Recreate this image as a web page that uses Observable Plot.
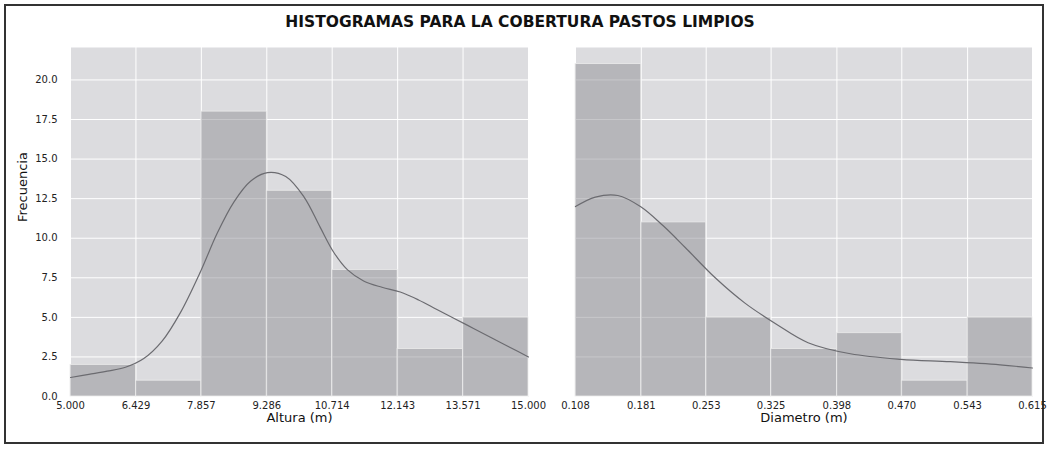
<!DOCTYPE html>
<html>
<head>
<meta charset="utf-8">
<script src="https://cdn.jsdelivr.net/npm/d3@7"></script>
<script src="https://cdn.jsdelivr.net/npm/@observablehq/plot@0.6"></script>
<style>
  html, body { margin: 0; padding: 0; background: #fff; }
  #wrap { position: relative; width: 1047px; height: 449px; overflow: hidden; font-family: "DejaVu Sans", sans-serif; }
  #frame { position: absolute; left: 4px; top: 4px; width: 1036px; height: 436px; border: 2px solid #333; }
  #title { position: absolute; left: 0; width: 1040px; top: 14px; line-height: 16px; text-align: center;
           font-weight: bold; font-size: 15.5px; color: #111; }
  .panel { position: absolute; top: 0; }
</style>
</head>
<body>
<div id="wrap">
  <div id="frame"></div>
  <div id="left" class="panel" style="left:0px"></div>
  <div id="right" class="panel" style="left:545px"></div>
  <div id="title">HISTOGRAMAS PARA LA COBERTURA PASTOS LIMPIOS</div>
</div>
<script>
// ---- data ----
const alturaEdges = [5.000, 6.429, 7.857, 9.286, 10.714, 12.143, 13.571, 15.000];
const alturaCounts = [2, 1, 18, 13, 8, 3, 5];
const alturaKdeX = [5.0, 5.4, 5.8, 6.2, 6.6, 7.0, 7.4, 7.84, 8.2, 8.57, 8.93, 9.3, 9.7, 10.1, 10.45, 10.75, 11.05, 11.4, 11.8, 12.2, 12.6, 13.0, 13.4, 13.8, 14.2, 14.6, 15.0];
const alturaKdeY = [1.2, 1.4, 1.6, 1.85, 2.4, 3.5, 5.3, 7.9, 10.3, 12.3, 13.6, 14.15, 13.9, 12.6, 10.7, 9.1, 8.0, 7.3, 6.9, 6.6, 6.1, 5.5, 4.9, 4.3, 3.7, 3.1, 2.5];

const diamEdges = [0.108, 0.181, 0.253, 0.325, 0.398, 0.470, 0.543, 0.615];
const diamCounts = [21, 11, 5, 3, 4, 1, 5];
const diamKdeX = [0.108, 0.130, 0.155, 0.180, 0.205, 0.230, 0.263, 0.296, 0.330, 0.366, 0.413, 0.469, 0.524, 0.579, 0.615];
const diamKdeY = [12.0, 12.6, 12.7, 12.0, 10.8, 9.4, 7.5, 5.9, 4.6, 3.4, 2.7, 2.35, 2.2, 2.0, 1.8];

const yTicks = [0, 2.5, 5, 7.5, 10, 12.5, 15, 17.5, 20];
const yMax = 22.05;

// ---- helpers ----
const bins = (edges, counts) => counts.map((c, i) => ({x1: edges[i], x2: edges[i + 1], c}));
const kde = (xs, ys) => xs.map((x, i) => ({x, y: ys[i]}));
const fmt3 = d3.format(".3f");
const fmt1 = d3.format(".1f");

function panel({edges, counts, kx, ky, width, marginLeft, marginRight, xLabel, showY}) {
  const marks = [
    Plot.frame({fill: "#dcdcdf", stroke: null}),
    Plot.gridX(edges, {stroke: "#fff", strokeOpacity: 1, strokeWidth: 1}),
    Plot.gridY(yTicks, {stroke: "#fff", strokeOpacity: 1, strokeWidth: 1}),
    Plot.rectY(bins(edges, counts), {x1: "x1", x2: "x2", y: "c", fill: "#8f8f95", fillOpacity: 0.5, stroke: "#ececec", strokeWidth: 0.8}),
    Plot.line(kde(kx, ky), {x: "x", y: "y", stroke: "#6b6b70", strokeWidth: 1.2, curve: "catmull-rom"}),
    Plot.axisX(edges, {tickSize: 0, tickPadding: 5, tickFormat: fmt3, fontSize: 10, fill: "#222", label: null}),
    Plot.text([xLabel], {frameAnchor: "bottom", dy: 25, fontSize: 13, fill: "#111"})
  ];
  if (showY) {
    marks.push(Plot.axisY(yTicks, {tickSize: 0, tickPadding: 13, tickFormat: fmt1, fontSize: 10, fill: "#222", label: null}));
    marks.push(Plot.text(["Frecuencia"], {frameAnchor: "left", dx: -48, rotate: -90, fontSize: 13, fill: "#111"}));
  }
  return Plot.plot({
    width, height: 449,
    marginTop: 47, marginBottom: 53, marginLeft, marginRight,
    style: {fontFamily: "DejaVu Sans, sans-serif", background: "transparent", overflow: "visible"},
    x: {domain: [edges[0], edges[edges.length - 1]]},
    y: {domain: [0, yMax], axis: null},
    marks
  });
}

document.getElementById("left").append(panel({
  edges: alturaEdges, counts: alturaCounts, kx: alturaKdeX, ky: alturaKdeY,
  width: 545, marginLeft: 70, marginRight: 17, xLabel: "Altura (m)", showY: true
}));
document.getElementById("right").append(panel({
  edges: diamEdges, counts: diamCounts, kx: diamKdeX, ky: diamKdeY,
  width: 502, marginLeft: 30, marginRight: 15, xLabel: "Diametro (m)", showY: false
}));
</script>
</body>
</html>
